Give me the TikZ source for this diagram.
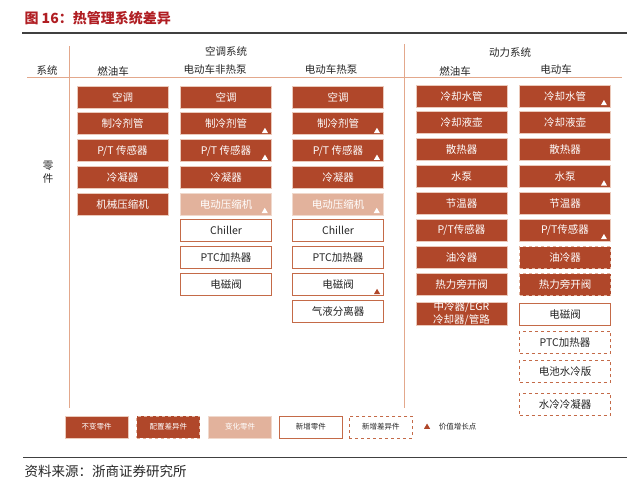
\documentclass[tikz,border=0pt]{standalone}
\usepackage{fontspec}
\setmainfont{Noto Sans CJK SC}
\usepackage{xcolor}
\usepackage{tikz}
\usetikzlibrary{shapes.geometric, positioning}

\definecolor{rust}{HTML}{B0472A}
\definecolor{blush}{HTML}{E2B29C}
\definecolor{brick}{HTML}{C46A48}
\definecolor{rulered}{HTML}{E3A88C}
\definecolor{titlered}{HTML}{B01E23}
\newcommand{\boxfont}{\fontsize{10.5}{12.5}\selectfont}
\newcommand{\legfont}{\fontsize{7.5}{9}\selectfont}

\begin{document}
\begin{tikzpicture}[x=1pt, y=-1pt,
  base/.style={rectangle, minimum width=91pt, minimum height=22pt, inner sep=0pt, align=center, font=\boxfont},
  fixed/.style={base, draw=blush!70, line width=0.8pt, fill=rust, text=white},
  config/.style={base, draw=blush, line width=1pt, dashed, fill=rust, text=white},
  changed/.style={base, draw=blush!50, fill=blush, text=white},
  added/.style={base, draw=brick, line width=1pt, fill=white, text=black!85},
  addcfg/.style={base, draw=brick, line width=1pt, dashed, fill=white, text=black!85},
  tri/.style={regular polygon, regular polygon sides=3, minimum size=7pt, inner sep=0pt, fill=white},
  head/.style={font=\boxfont, text=black!85},
  sep/.style={draw=rulered, line width=0.8pt}
]
  \useasboundingbox (0,0) rectangle (627,490);

  % title and rules
  \node[anchor=west, font=\fontsize{14}{16}\selectfont\bfseries, text=titlered] (title) at (21,18) {图 16：热管理系统差异};
  \draw[black!75, line width=1.2pt] (22,33) -- (627,33);
  \draw[sep] (69,46) -- (69,408);
  \draw[sep] (404,44) -- (404,408);
  \draw[sep] (27,77) -- (622,77);

  % headers
  \node[head] (hac) at (226,51) {空调系统};
  \node[head] (hpw) at (510,53) {动力系统};
  \node[head] (hsys) at (47,70) {系统};
  \node[head] (hc1) at (113,71) {燃油车};
  \node[head] (hc2) at (215,70) {电动车非热泵};
  \node[head] (hc3) at (331,70) {电动车热泵};
  \node[head] (hc4) at (455,71) {燃油车};
  \node[head] (hc5) at (556,69) {电动车};
  \node[head, align=center, font=\fontsize{10.5}{13.5}\selectfont] (hpart) at (48,172) {零\\件};

  % air conditioning, fuel car
  \node[fixed] (a1) at (122.5,97) {空调};
  \node[fixed, below=4pt of a1] (a2) {制冷剂管};
  \node[fixed, below=4pt of a2] (a3) {P/T 传感器};
  \node[fixed, below=4pt of a3] (a4) {冷凝器};
  \node[fixed, below=4pt of a4] (a5) {机械压缩机};

  % air conditioning, electric car without heat pump
  \node[fixed] (b1) at (226,97) {空调};
  \node[fixed, below=4pt of b1] (b2) {制冷剂管};
  \node[fixed, below=4pt of b2] (b3) {P/T 传感器};
  \node[fixed, below=4pt of b3] (b4) {冷凝器};
  \node[changed, below=4pt of b4] (b5) {电动压缩机};
  \node[added, below=4pt of b5] (b6) {Chiller};
  \node[added, below=4pt of b6] (b7) {PTC加热器};
  \node[added, below=4pt of b7] (b8) {电磁阀};

  % air conditioning, electric car with heat pump
  \node[fixed] (c1) at (338,97) {空调};
  \node[fixed, below=4pt of c1] (c2) {制冷剂管};
  \node[fixed, below=4pt of c2] (c3) {P/T 传感器};
  \node[fixed, below=4pt of c3] (c4) {冷凝器};
  \node[changed, below=4pt of c4] (c5) {电动压缩机};
  \node[added, below=4pt of c5] (c6) {Chiller};
  \node[added, below=4pt of c6] (c7) {PTC加热器};
  \node[added, below=4pt of c7] (c8) {电磁阀};
  \node[added, below=4pt of c8] (c9) {气液分离器};

  % powertrain, fuel car
  \node[fixed] (d1) at (461.5,96) {冷却水管};
  \node[fixed, below=4pt of d1] (d2) {冷却液壶};
  \node[fixed, below=4pt of d2] (d3) {散热器};
  \node[fixed, below=4pt of d3] (d4) {水泵};
  \node[fixed, below=4pt of d4] (d5) {节温器};
  \node[fixed, below=4pt of d5] (d6) {P/T传感器};
  \node[fixed, below=5pt of d6] (d7) {油冷器};
  \node[fixed, below=4pt of d7] (d8) {热力旁开阀};
  \node[fixed, below=5.5pt of d8] (d9) {中冷器/EGR\\冷却器/管路};

  % powertrain, electric car
  \node[fixed] (e1) at (565,96) {冷却水管};
  \node[fixed, below=4pt of e1] (e2) {冷却液壶};
  \node[fixed, below=4pt of e2] (e3) {散热器};
  \node[fixed, below=4pt of e3] (e4) {水泵};
  \node[fixed, below=4pt of e4] (e5) {节温器};
  \node[fixed, below=4pt of e5] (e6) {P/T传感器};
  \node[config, below=5pt of e6] (e7) {油冷器};
  \node[config, below=4pt of e7] (e8) {热力旁开阀};
  \node[added, below=6.5pt of e8] (e9) {电磁阀};
  \node[addcfg, below=5pt of e9] (e10) {PTC加热器};
  \node[addcfg, below=6pt of e10] (e11) {电池水冷版};
  \node[addcfg, below=10pt of e11] (e12) {水冷冷凝器};

  % value growth marks
  \node[tri, above left=2pt and 5pt of b2.south east] (tb2) {};
  \node[tri, above left=2pt and 5pt of b3.south east] (tb3) {};
  \node[tri, above left=2pt and 5pt of b5.south east] (tb5) {};
  \node[tri, above left=2pt and 5pt of c2.south east] (tc2) {};
  \node[tri, above left=2pt and 5pt of c3.south east] (tc3) {};
  \node[tri, above left=2pt and 5pt of c5.south east] (tc5) {};
  \node[tri, fill=rust, above left=2pt and 5pt of c8.south east] (tc8) {};
  \node[tri, above left=2pt and 5pt of e1.south east] (te1) {};
  \node[tri, above left=2pt and 5pt of e4.south east] (te4) {};
  \node[tri, above left=2pt and 5pt of e6.south east] (te6) {};

  % legend
  \node[fixed, minimum width=63pt, font=\legfont] (k1) at (96.5,427) {不变零件};
  \node[config, minimum width=63pt, font=\legfont, right=8pt of k1] (k2) {配置差异件};
  \node[changed, minimum width=63pt, font=\legfont, right=8pt of k2] (k3) {变化零件};
  \node[added, minimum width=63pt, font=\legfont, right=7pt of k3] (k4) {新增零件};
  \node[addcfg, minimum width=63pt, font=\legfont, right=6pt of k4] (k5) {新增差异件};
  \node[tri, fill=rust, right=12pt of k5] (k6) {};
  \node[font=\legfont, text=black!85, right=6pt of k6] (k7) {价值增长点};

  % source
  \draw[black!75, line width=1pt] (23,457) -- (627,457);
  \node[anchor=west, font=\fontsize{13.5}{15}\selectfont, text=black!85] (src) at (21,471) {资料来源：浙商证券研究所};
\end{tikzpicture}
\end{document}
